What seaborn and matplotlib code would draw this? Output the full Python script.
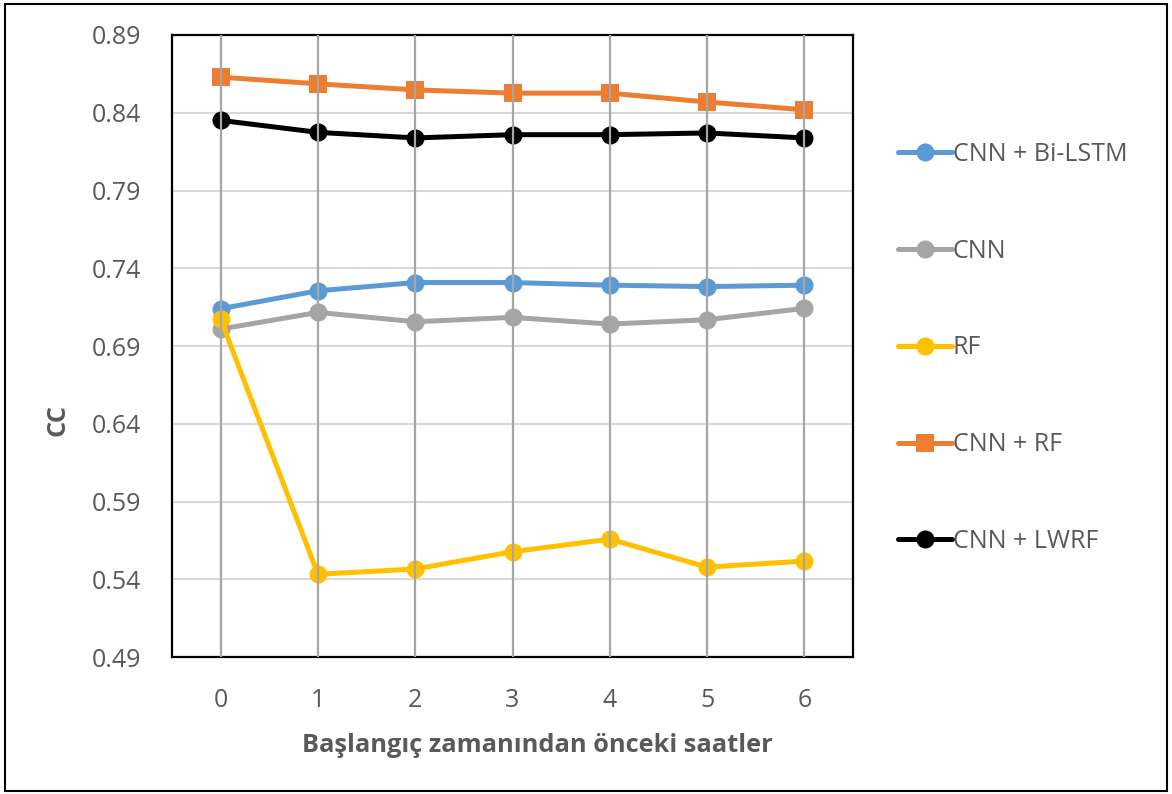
import matplotlib
matplotlib.use("Agg")
import matplotlib.pyplot as plt
import seaborn as sns
import pandas as pd
from matplotlib.patches import Rectangle

sns.set_theme(style="white")
plt.rcParams["font.family"] = ["Open Sans", "DejaVu Sans"]

hours = [0, 1, 2, 3, 4, 5, 6]
series_names = ["CNN + Bi-LSTM", "CNN", "RF", "CNN + RF", "CNN + LWRF"]
cnn_bilstm = [0.714, 0.7255, 0.7308, 0.7308, 0.7291, 0.7282, 0.7291]
cnn = [0.7009, 0.7116, 0.7056, 0.7084, 0.7041, 0.7069, 0.7142]
rf = [0.7073, 0.5432, 0.5466, 0.5577, 0.5658, 0.5478, 0.5517]
cnn_rf = [0.8629, 0.8586, 0.8547, 0.8526, 0.8526, 0.8469, 0.8419]
cnn_lwrf = [0.8351, 0.8274, 0.8238, 0.8259, 0.8259, 0.8270, 0.8238]
y_ticks = [0.49, 0.54, 0.59, 0.64, 0.69, 0.74, 0.79, 0.84, 0.89]

values = [cnn_bilstm, cnn, rf, cnn_rf, cnn_lwrf]
df = pd.DataFrame(
    [(h, name, v) for name, vals in zip(series_names, values) for h, v in zip(hours, vals)],
    columns=["hour", "model", "cc"],
)

palette = {
    "CNN + Bi-LSTM": "#5B9BD5",
    "CNN": "#A5A5A5",
    "RF": "#FFC000",
    "CNN + RF": "#ED7D31",
    "CNN + LWRF": "#000000",
}
markers = {"CNN + Bi-LSTM": "o", "CNN": "o", "RF": "o", "CNN + RF": "s", "CNN + LWRF": "o"}

fig = plt.figure(figsize=(11.72, 7.94), dpi=100)
W, H = 1172, 794
ax = fig.add_axes([172 / W, 1 - 657 / H, (853 - 172) / W, (657 - 35) / H])

sns.lineplot(
    data=df, x="hour", y="cc", hue="model", style="model",
    hue_order=series_names, style_order=series_names,
    palette=palette, markers=markers, dashes=False,
    linewidth=3.6, markersize=13, markeredgewidth=0, ax=ax,
)

ax.set_xlim(-0.5, 6.5)
ax.set_ylim(0.49, 0.89)
ax.set_yticks(y_ticks)
ax.set_yticklabels([f"{t:.2f}" for t in y_ticks])
ax.set_xticks(hours)
ax.set_xticklabels([str(h) for h in hours])
ax.yaxis.grid(True, color="#D9D9D9", linewidth=1.5, zorder=0)
ax.set_axisbelow(True)
for h in hours:
    ax.axvline(h, color="#A6A6A6", linewidth=1.6, zorder=5)

for s in ax.spines.values():
    s.set_color("black")
    s.set_linewidth(1.6)
ax.tick_params(axis="both", length=0, labelsize=18, labelcolor="#595959")
ax.tick_params(axis="y", pad=22)
ax.tick_params(axis="x", pad=22)
ax.set_xlabel("")
ax.set_ylabel("")

fig.text(537 / W, 1 - 745 / H, "Başlangıç zamanından önceki saatler",
         ha="center", va="center", fontsize=18.3, fontweight="bold", color="#595959")
fig.text(58 / W, 1 - 420 / H, "CC", rotation=90,
         ha="center", va="center", fontsize=18.3, fontweight="bold", color="#595959")

handles, labels = ax.get_legend_handles_labels()
ax.legend_.remove()
leg = fig.legend(handles, labels, loc="upper left",
                 bbox_to_anchor=(888 / W, 1 - 132 / H),
                 frameon=False, fontsize=18, labelspacing=2.87,
                 handlelength=2.15, handletextpad=0.05, borderaxespad=0)
for t in leg.get_texts():
    t.set_color("#595959")

fig.patches.append(Rectangle((5 / W, 3 / H), (1167 - 5) / W, (790 - 3) / H,
                             transform=fig.transFigure, fill=False,
                             edgecolor="black", linewidth=1.5))

fig.savefig("out.png", dpi=100)
